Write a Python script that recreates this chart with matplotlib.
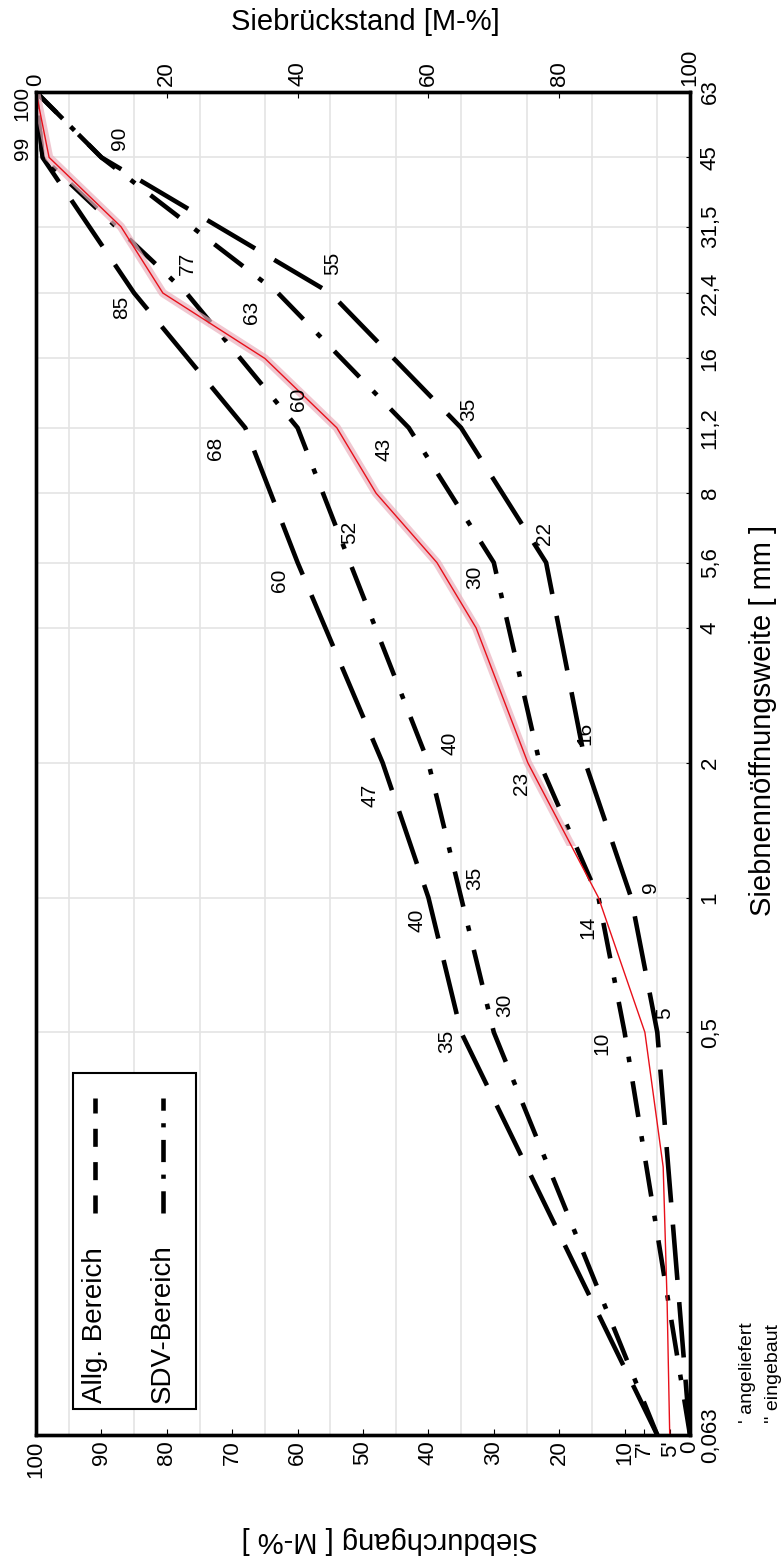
import numpy as np
import matplotlib
matplotlib.use('Agg')
import matplotlib.pyplot as plt
from matplotlib.lines import Line2D
from matplotlib.patches import Rectangle
from matplotlib.ticker import NullLocator

plt.rcParams['font.family'] = ['Liberation Sans', 'DejaVu Sans']
plt.rcParams['lines.scale_dashes'] = False

# ---------------- data ----------------
sieves = [0.063, 0.5, 1, 2, 5.6, 11.2, 22.4, 45, 63]
allg_lower = [0, 5, 9, 16, 22, 35, 55, 90, 100]
allg_upper = [5, 35, 40, 47, 60, 68, 85, 99, 100]
sdv_lower = [0, 10, 14, 23, 30, 43, 63, 90, 100]
sdv_upper = [5, 30, 35, 40, 52, 60, 77, 99, 100]

sample_sieves = [0.063, 0.125, 0.25, 0.5, 1, 2, 4, 5.6, 8, 11.2, 16, 22.4, 31.5, 45, 63]
sample_passing = [3.1, 3.5, 4.1, 6.9, 14, 24.8, 32.7, 38.7, 48, 54, 65, 80.6, 87, 98, 100]

sieve_ticks = [0.063, 0.5, 1, 2, 4, 5.6, 8, 11.2, 16, 22.4, 31.5, 45, 63]
sieve_labels = ['0,063', '0,5', '1', '2', '4', '5,6', '8', '11,2', '16', '22,4', '31,5', '45', '63']
passing_ticks = [100, 90, 80, 70, 60, 50, 40, 30, 20, 10, 7, 3, 0]
passing_labels = ['100', '90', '80', '70', '60', '50', '40', '30', '20', '10', "7'", "5'", '0']
residue_labels = ['0', '20', '40', '60', '80', '100']

# curve value labels (text) and their placement (passing %, sieve mm)
value_labels = ['90', '77', '85', '55', '63', '60', '68', '43', '35', '52', '22', '60', '30',
                '40', '47', '23', '16', '35', '9', '40', '14', '30', '5', '35', '10', '99', '100']
label_pass = [87.2, 76.9, 86.9, 54.7, 67.0, 59.9, 72.5, 46.8, 33.9, 52.0, 22.2, 62.7, 32.9,
              36.7, 48.9, 25.7, 16.1, 32.9, 6.1, 41.7, 15.6, 28.3, 3.8, 37.2, 13.5, 102.1, 102.1]
label_sieve = [49.7, 26.1, 20.8, 26.1, 20.3, 13.0, 10.1, 10.0, 12.3, 6.55, 6.5, 5.12, 5.2,
               2.21, 1.69, 1.80, 2.33, 1.105, 1.055, 0.891, 0.859, 0.575, 0.552, 0.476, 0.473, 47.2, 59.5]

# ---------------- figure ----------------
W, H = 783, 1566
fig = plt.figure(figsize=(W / 100, H / 100), dpi=100)
L, R, T, B = 36, 690, 92, 1435
ax = fig.add_axes([L / W, 1 - B / H, (R - L) / W, (B - T) / H])

ax.set_yscale('log')
ax.set_xlim(100, 0)
ax.set_ylim(0.063, 63)

# grid
grid_col = '#e4e4e4'
ax.set_xticks(np.arange(0, 101, 5), minor=True)
ax.grid(axis='x', which='minor', color=grid_col, lw=1.2, zorder=0)
ax.grid(axis='x', which='major', visible=False)
ax.yaxis.set_minor_locator(NullLocator())
ax.set_yticks(sieve_ticks)
ax.set_yticklabels(sieve_labels, rotation=90, va='center', fontsize=16)
ax.grid(axis='y', which='major', color=grid_col, lw=1.2, zorder=0)
ax.yaxis.tick_right()
ax.tick_params(axis='y', direction='in', length=3, pad=7)

ax.set_xticks(passing_ticks)
ax.set_xticklabels(passing_labels, rotation=90, fontsize=16)
ax.tick_params(axis='x', which='major', direction='in', length=4, pad=4)
ax.tick_params(axis='x', which='minor', length=0)

for s in ax.spines.values():
    s.set_linewidth(2.4)

# top axis: Siebrückstand
ax2 = ax.twiny()
ax2.set_xlim(100, 0)
ax2.set_xticks([100 - float(r) for r in residue_labels])
ax2.set_xticklabels(residue_labels, rotation=90, fontsize=16)
ax2.tick_params(axis='x', direction='in', length=4, pad=4)
ax2.xaxis.set_minor_locator(NullLocator())
for s in ax2.spines.values():
    s.set_linewidth(2.4)

# boundary curves
allg_style = dict(color='black', lw=3.3, dashes=(40, 16), solid_capstyle='butt', dash_capstyle='butt', zorder=3)
sdv_style = dict(color='black', lw=3.3, dashes=(26, 14, 4, 14), solid_capstyle='butt', dash_capstyle='butt', zorder=3)
ax.plot(allg_lower, sieves, **allg_style)
ax.plot(allg_upper, sieves, **allg_style)
ax.plot(sdv_lower, sieves, **sdv_style)
ax.plot(sdv_upper, sieves, **sdv_style)

# sample curve: pink highlight + thin red line
pink, = ax.plot(sample_passing, sample_sieves, color='#eab0bd', lw=6, alpha=0.7,
                solid_capstyle='round', zorder=4)
clip = Rectangle((0, 1.3), 100, 62, transform=ax.transData)
pink.set_clip_path(clip)
ax.plot(sample_passing, sample_sieves, color='#e8101a', lw=1.0, zorder=5)

# value labels
for txt, px, sy in zip(value_labels, label_pass, label_sieve):
    ax.text(px, sy, txt, rotation=90, ha='center', va='center', fontsize=15,
            zorder=6, clip_on=False)

# legend (drawn manually, rotated)
lx0, lx1 = (73 - L) / (R - L), (196 - L) / (R - L)
ly0, ly1 = (B - 1409) / (B - T), (B - 1073) / (B - T)
ax.add_patch(Rectangle((lx0, ly0), lx1 - lx0, ly1 - ly0, transform=ax.transAxes,
                       facecolor='white', edgecolor='black', lw=1.5, zorder=7))
sy0, sy1 = (B - 1213) / (B - T), (B - 1098) / (B - T)
for xpix, name, dsh in [(95, 'Allg. Bereich', (13, 11)), (163, 'SDV-Bereich', (16, 9, 3, 9))]:
    xf = (xpix - L) / (R - L)
    ax.text(xf, (B - 1403) / (B - T), name, rotation=90, ha='center', va='bottom',
            fontsize=20, transform=ax.transAxes, zorder=8)
    ax.add_line(Line2D([xf, xf], [sy0, sy1], transform=ax.transAxes, color='black',
                       lw=3.3, dashes=dsh, dash_capstyle='butt', zorder=8))

# axis titles
fig.text(365 / W, 1 - 22 / H, 'Siebrückstand [M-%]', ha='center', va='center', fontsize=21)
fig.text(390 / W, 1 - 1540 / H, 'Siebdurchgang [ M-% ]', ha='center', va='center',
         fontsize=21, rotation=180)
fig.text(763 / W, 1 - 720 / H, 'Siebnennöffnungsweite [ mm ]', ha='center', va='center',
         fontsize=21, rotation=90)

# footnotes
fig.text(747 / W, 1 - 1423 / H, "' angeliefert", rotation=90, ha='center', va='bottom', fontsize=14)
fig.text(773 / W, 1 - 1423 / H, "'' eingebaut", rotation=90, ha='center', va='bottom', fontsize=14)

fig.savefig('out.png', dpi=100)
